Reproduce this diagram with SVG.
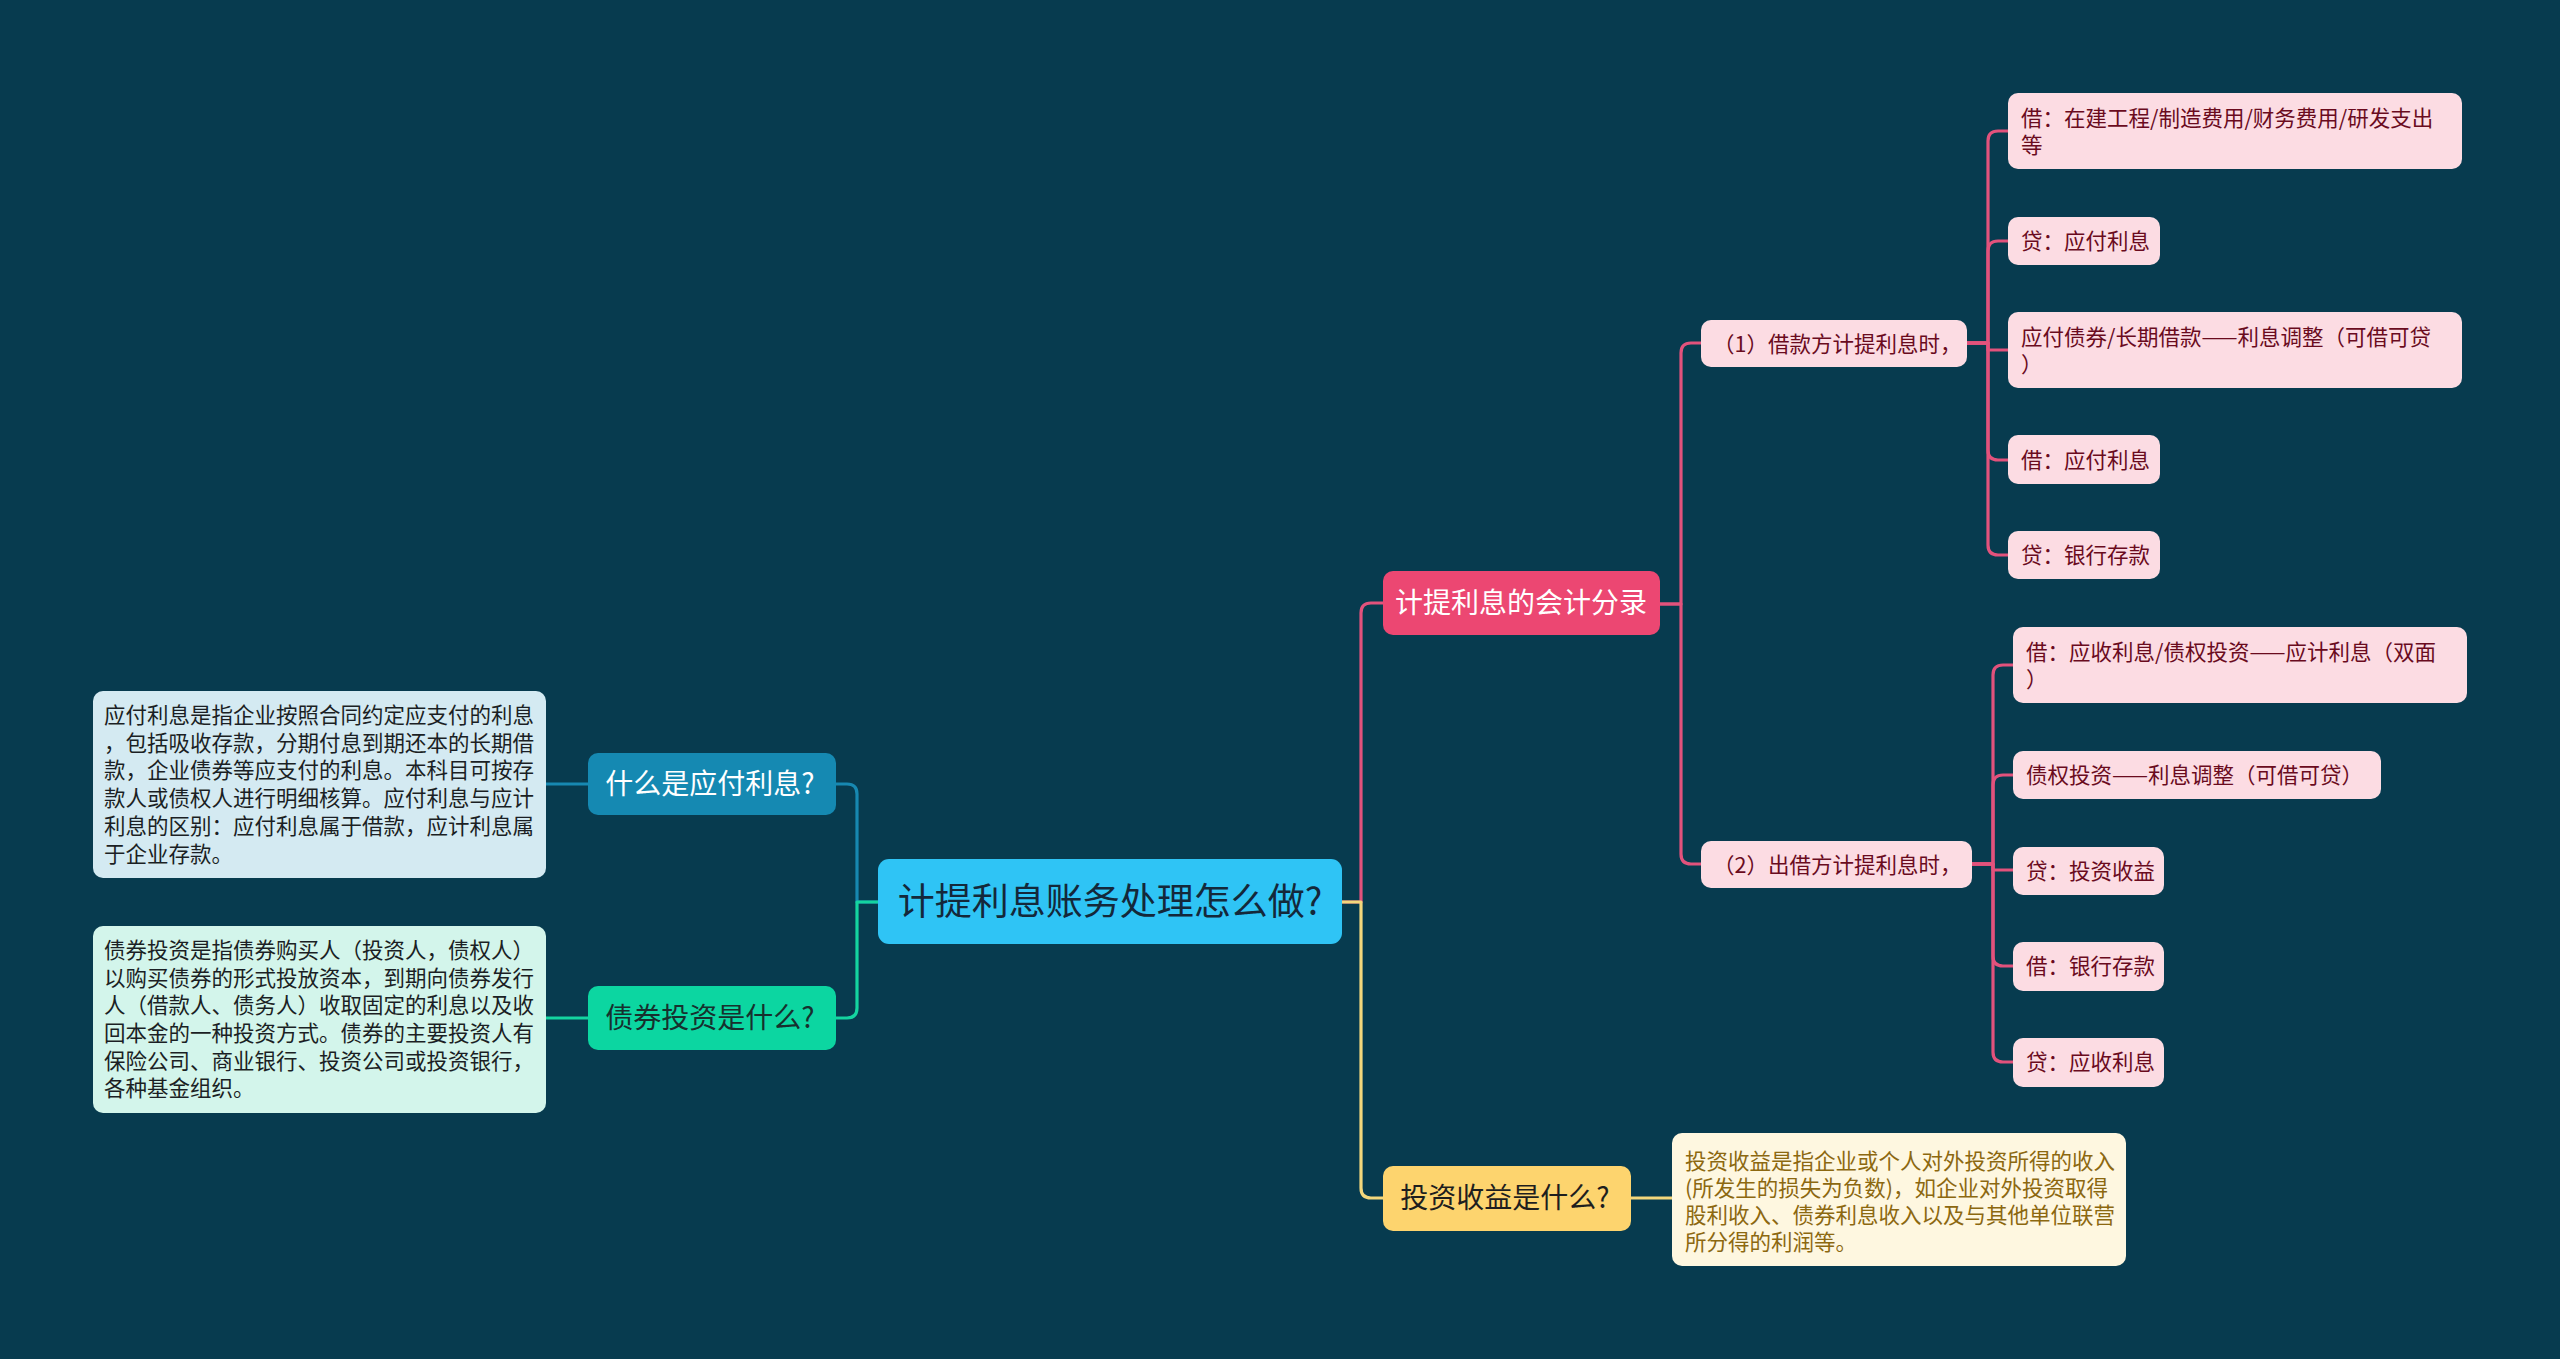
<svg xmlns="http://www.w3.org/2000/svg" width="2560" height="1359" viewBox="0 0 2560 1359">
<style>
text{font-family:"Noto Sans CJK SC","Noto Sans",sans-serif;}
.c{fill:none;stroke-width:3.2;stroke-linecap:round;stroke-linejoin:round;}
.pk{stroke:#E2527C;}
.bl{stroke:#1788B1;}
.gr{stroke:#14D4A0;}
.yl{stroke:#F3D77C;}
.root{fill:#2FC4F5;}
.rt{font-size:37px;fill:#14283A;}
.l1t{font-size:28px;}
.leaf{fill:#FCDCE3;}
.lt{font-size:21.5px;fill:#6A0B1E;}
.dt{font-size:21.5px;}
</style>
<rect x="0" y="0" width="2560" height="1359" fill="#073B4F"/>
<g id="connectors">
<path class="c bl" d="M878,902 H857 V794 Q857,784 847,784 H836"/>
<path class="c gr" d="M878,902 H857 V1008 Q857,1018 847,1018 H836"/>
<path class="c bl" d="M588,784 H545"/>
<path class="c gr" d="M588,1018 H545"/>
<path class="c pk" d="M1342,902 H1361 V613 Q1361,603 1371,603 H1383"/>
<path class="c yl" d="M1342,902 H1361 V1188 Q1361,1198 1371,1198 H1383"/>
<path class="c yl" d="M1631,1198 H1672"/>
<path class="c pk" d="M1660,604 H1681 V353 Q1681,343 1691,343 H1701"/>
<path class="c pk" d="M1660,604 H1681 V854 Q1681,864 1691,864 H1701"/>
<path class="c pk" d="M1967,343 H1988 V141 Q1988,131 1998,131 H2008"/>
<path class="c pk" d="M1967,343 H1988 V251 Q1988,241 1998,241 H2008"/>
<path class="c pk" d="M1967,343 H1988 V350 H2008"/>
<path class="c pk" d="M1967,343 H1988 V450 Q1988,460 1998,460 H2008"/>
<path class="c pk" d="M1967,343 H1988 V545 Q1988,555 1998,555 H2008"/>
<path class="c pk" d="M1972,864 H1993 V675 Q1993,665 2003,665 H2013"/>
<path class="c pk" d="M1972,864 H1993 V785 Q1993,775 2003,775 H2013"/>
<path class="c pk" d="M1972,864 H1993 V870 H2013"/>
<path class="c pk" d="M1972,864 H1993 V956 Q1993,966 2003,966 H2013"/>
<path class="c pk" d="M1972,864 H1993 V1052 Q1993,1062 2003,1062 H2013"/>
</g>
<g id="root">
<rect class="root" x="878" y="859" width="464" height="85" rx="11"/>
<text class="rt" x="1110" y="899" text-anchor="middle" dominant-baseline="central">计提利息账务处理怎么做?</text>
</g>
<g id="n-what-payable">
<rect x="588" y="753" width="248" height="62" rx="10" fill="#1589B2"/>
<text class="l1t" x="710" y="782" text-anchor="middle" dominant-baseline="central" fill="#FFFFFF">什么是应付利息?</text>
</g>
<g id="n-bond">
<rect x="588" y="986" width="248" height="64" rx="10" fill="#0CD6A1"/>
<text class="l1t" x="710" y="1016" text-anchor="middle" dominant-baseline="central" fill="#17302E">债券投资是什么?</text>
</g>
<g id="d-payable">
<rect x="93" y="691" width="453" height="187" rx="10" fill="#D4EAF2"/>
<text class="dt" fill="#1B1F24" dominant-baseline="central">
<tspan x="104" y="713">应付利息是指企业按照合同约定应支付的利息</tspan>
<tspan x="104" y="741">，包括吸收存款，分期付息到期还本的长期借</tspan>
<tspan x="104" y="768">款，企业债券等应支付的利息。本科目可按存</tspan>
<tspan x="104" y="796">款人或债权人进行明细核算。应付利息与应计</tspan>
<tspan x="104" y="824">利息的区别：应付利息属于借款，应计利息属</tspan>
<tspan x="104" y="852">于企业存款。</tspan>
</text>
</g>
<g id="d-bond">
<rect x="93" y="926" width="453" height="187" rx="10" fill="#D3F5EB"/>
<text class="dt" fill="#1B1F24" dominant-baseline="central">
<tspan x="104" y="948">债券投资是指债券购买人（投资人，债权人）</tspan>
<tspan x="104" y="976">以购买债券的形式投放资本，到期向债券发行</tspan>
<tspan x="104" y="1003">人（借款人、债务人）收取固定的利息以及收</tspan>
<tspan x="104" y="1031">回本金的一种投资方式。债券的主要投资人有</tspan>
<tspan x="104" y="1059">保险公司、商业银行、投资公司或投资银行，</tspan>
<tspan x="104" y="1086">各种基金组织。</tspan>
</text>
</g>
<g id="n-entries">
<rect x="1383" y="571" width="277" height="64" rx="10" fill="#EC4772"/>
<text class="l1t" x="1521" y="601" text-anchor="middle" dominant-baseline="central" fill="#FFFFFF">计提利息的会计分录</text>
</g>
<g id="n-income">
<rect x="1383" y="1166" width="248" height="65" rx="10" fill="#FDD46E"/>
<text class="l1t" x="1505" y="1196" text-anchor="middle" dominant-baseline="central" fill="#1E1E1E">投资收益是什么?</text>
</g>
<g id="d-income">
<rect x="1672" y="1133" width="454" height="133" rx="10" fill="#FEF7E0"/>
<text class="dt" fill="#8C6810" dominant-baseline="central">
<tspan x="1685" y="1159">投资收益是指企业或个人对外投资所得的收入</tspan>
<tspan x="1685" y="1186">(所发生的损失为负数)，如企业对外投资取得</tspan>
<tspan x="1685" y="1213">股利收入、债券利息收入以及与其他单位联营</tspan>
<tspan x="1685" y="1240">所分得的利润等。</tspan>
</text>
</g>
<g id="n-borrower">
<rect class="leaf" x="1701" y="320" width="266" height="47" rx="10"/>
<text class="lt" x="1713" y="342" dominant-baseline="central">（1）借款方计提利息时，</text>
</g>
<g id="n-lender">
<rect class="leaf" x="1701" y="841" width="271" height="47" rx="10"/>
<text class="lt" x="1713" y="863" dominant-baseline="central">（2）出借方计提利息时，</text>
</g>
<g id="b1">
<rect class="leaf" x="2008" y="93" width="454" height="76" rx="10"/>
<text class="lt" dominant-baseline="central"><tspan x="2021" y="116">借：在建工程/制造费用/财务费用/研发支出</tspan><tspan x="2021" y="143">等</tspan></text>
</g>
<g id="b2">
<rect class="leaf" x="2008" y="217" width="152" height="48" rx="10"/>
<text class="lt" x="2021" y="239" dominant-baseline="central">贷：应付利息</text>
</g>
<g id="b3">
<rect class="leaf" x="2008" y="312" width="454" height="76" rx="10"/>
<text class="lt" dominant-baseline="central"><tspan x="2021" y="335">应付债券/长期借款——利息调整（可借可贷</tspan><tspan x="2021" y="362">）</tspan></text>
</g>
<g id="b4">
<rect class="leaf" x="2008" y="435" width="152" height="49" rx="10"/>
<text class="lt" x="2021" y="458" dominant-baseline="central">借：应付利息</text>
</g>
<g id="b5">
<rect class="leaf" x="2008" y="531" width="152" height="48" rx="10"/>
<text class="lt" x="2021" y="553" dominant-baseline="central">贷：银行存款</text>
</g>
<g id="l1">
<rect class="leaf" x="2013" y="627" width="454" height="76" rx="10"/>
<text class="lt" dominant-baseline="central"><tspan x="2026" y="650">借：应收利息/债权投资——应计利息（双面</tspan><tspan x="2026" y="677">）</tspan></text>
</g>
<g id="l2">
<rect class="leaf" x="2013" y="751" width="368" height="48" rx="10"/>
<text class="lt" x="2026" y="773" dominant-baseline="central">债权投资——利息调整（可借可贷）</text>
</g>
<g id="l3">
<rect class="leaf" x="2013" y="847" width="151" height="48" rx="10"/>
<text class="lt" x="2026" y="869" dominant-baseline="central">贷：投资收益</text>
</g>
<g id="l4">
<rect class="leaf" x="2013" y="942" width="151" height="49" rx="10"/>
<text class="lt" x="2026" y="964" dominant-baseline="central">借：银行存款</text>
</g>
<g id="l5">
<rect class="leaf" x="2013" y="1038" width="151" height="49" rx="10"/>
<text class="lt" x="2026" y="1060" dominant-baseline="central">贷：应收利息</text>
</g>
</svg>
